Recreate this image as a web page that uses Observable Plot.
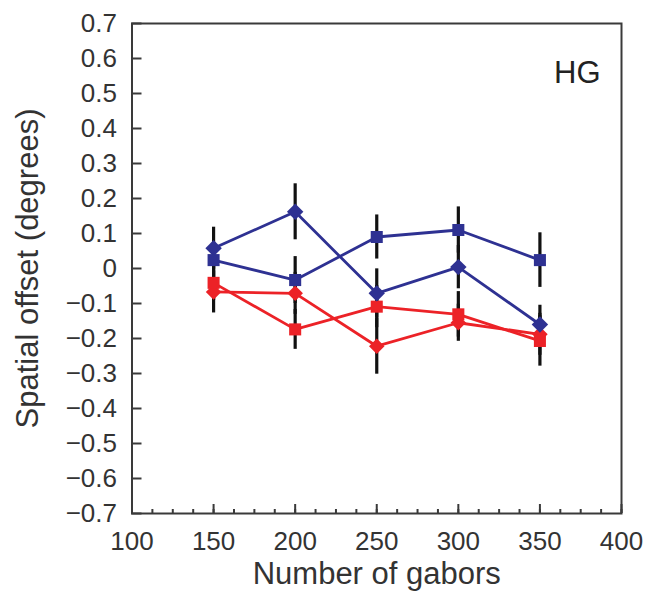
<!DOCTYPE html>
<html>
<head>
<meta charset="utf-8">
<script src="https://cdn.jsdelivr.net/npm/d3@7"></script>
<script src="https://cdn.jsdelivr.net/npm/@observablehq/plot@0.6"></script>
<style>
  body { margin: 0; background: #fff; }
</style>
</head>
<body>
<div id="chart"></div>
<script>
// ---- data ----
const gabors = [150, 200, 250, 300, 350];
const xTickValues = [100, 150, 200, 250, 300, 350, 400];
const xMinorTickValues = d3.range(100, 400.01, 12.5);
const yTickValues = [-0.7, -0.6, -0.5, -0.4, -0.3, -0.2, -0.1, 0, 0.1, 0.2, 0.3, 0.4, 0.5, 0.6, 0.7];

const blueDiamond    = [0.058, 0.162, -0.071, 0.004, -0.160];
const blueDiamondErr = [0.060, 0.080, 0.070, 0.062, 0.055];
const blueSquare     = [0.024, -0.033, 0.090, 0.110, 0.024];
const blueSquareErr  = [0.050, 0.067, 0.063, 0.066, 0.078];
const redSquare      = [-0.041, -0.174, -0.109, -0.131, -0.207];
const redSquareErr   = [0.050, 0.057, 0.060, 0.065, 0.072];
const redDiamond     = [-0.067, -0.071, -0.222, -0.155, -0.188];
const redDiamondErr  = [0.060, 0.060, 0.080, 0.053, 0.060];

const panelLabel = "HG";
const xTitle = "Number of gabors";
const yTitle = "Spatial offset (degrees)";

// ---- styles ----
const BLUE = "#2e3192";
const RED = "#ec2227";
const seriesList = [
  {name: "redDiamond", values: redDiamond, err: redDiamondErr, color: RED, symbol: "diamond2", r: 7.0},
  {name: "redSquare", values: redSquare, err: redSquareErr, color: RED, symbol: "square", r: 6.8},
  {name: "blueDiamond", values: blueDiamond, err: blueDiamondErr, color: BLUE, symbol: "diamond2", r: 7.4},
  {name: "blueSquare", values: blueSquare, err: blueSquareErr, color: BLUE, symbol: "square", r: 6.8}
];

const tables = seriesList.map(s => ({
  ...s,
  rows: gabors.map((g, i) => ({x: g, y: s.values[i], lo: s.values[i] - s.err[i], hi: s.values[i] + s.err[i]}))
}));

const yFmt = d => d === 0 ? "0" : d3.format(".1f")(d);
const AX = "#3a3a3a";

const marks = [
  Plot.frame({stroke: AX, strokeWidth: 2}),
  Plot.axisX(xTickValues, {tickSize: 0, tickPadding: 18, fontSize: 26, label: null}),
  Plot.axisX(xTickValues, {tickSize: -9, tickFormat: () => "", label: null, stroke: AX, strokeWidth: 2}),
  Plot.axisX(xMinorTickValues, {tickSize: -4, tickFormat: () => "", label: null, stroke: AX, strokeWidth: 2}),
  Plot.axisY(yTickValues, {tickSize: 0, tickPadding: 15, fontSize: 26, tickFormat: yFmt, label: null}),
  Plot.axisY(yTickValues, {tickSize: -10, tickFormat: () => "", label: null, stroke: AX, strokeWidth: 2})
];

// error bars first (underneath)
for (const t of tables) {
  marks.push(Plot.ruleX(t.rows, {x: "x", y1: "lo", y2: "hi", stroke: "#111", strokeWidth: 3.2}));
}
for (const t of tables) {
  marks.push(Plot.line(t.rows, {x: "x", y: "y", stroke: t.color, strokeWidth: 2.8}));
}
for (const t of tables) {
  marks.push(Plot.dot(t.rows, {x: "x", y: "y", symbol: t.symbol, fill: t.color, stroke: "none", r: t.r}));
}

marks.push(
  Plot.text([panelLabel], {frameAnchor: "top-right", textAnchor: "end", dx: -21, dy: 37, fontSize: 31, fill: "#222"}),
  Plot.text([xTitle], {frameAnchor: "bottom", dy: 70, fontSize: 31, fill: "#333"}),
  Plot.text([yTitle], {frameAnchor: "left", textAnchor: "middle", rotate: -90, dx: -104, fontSize: 31, fill: "#333"})
);

const chart = Plot.plot({
  width: 646,
  height: 597,
  marginLeft: 131.5,
  marginRight: 25,
  marginTop: 23,
  marginBottom: 84,
  style: {fontFamily: "'Liberation Sans', Arial, Helvetica, sans-serif", color: "#333", background: "#fff", overflow: "visible"},
  x: {domain: [100, 400]},
  y: {domain: [-0.7, 0.7]},
  marks
});
document.getElementById("chart").appendChild(chart);
</script>
</body>
</html>
